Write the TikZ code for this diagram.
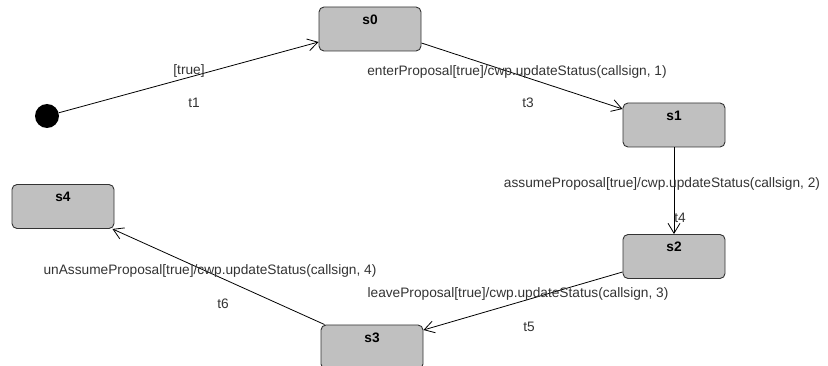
\documentclass[tikz,border=0pt]{standalone}
\usepackage{fontspec}
\setmainfont{Liberation Sans}
\usetikzlibrary{arrows.meta,calc}
\definecolor{stfill}{HTML}{C0C0C0}
\definecolor{stline}{HTML}{333333}
\definecolor{lbl}{HTML}{333333}
\tikzset{
  state/.style={draw=stline, fill=stfill, rounded corners=5pt, line width=0.9pt,
    minimum width=102pt, minimum height=44pt, inner sep=0pt},
  title/.style={font=\fontsize{13.7}{14}\selectfont\bfseries, text=black, anchor=center},
  lab/.style={font=\fontsize{13.7}{14}\selectfont, text=lbl, anchor=center, inner sep=0pt},
  trans/.style={draw=black, line width=0.8pt,
    -{Straight Barb[length=10pt,width=12pt,line width=0.8pt]}},
  initial/.style={circle, fill=black, minimum size=24pt, inner sep=0pt}
}
\begin{document}
\begin{tikzpicture}[x=1pt,y=-1pt]
\useasboundingbox (0,0) rectangle (828,366);
\node[initial] (init) at (47,116) {};
\node[state] (s0) at (370,29) {};
\node[title] (s0t) at ($(s0.north)+(0,13)$) {s0};
\node[state] (s1) at (674,125) {};
\node[title] (s1t) at ($(s1.north)+(0,13)$) {s1};
\node[state] (s2) at (674,256.5) {};
\node[title] (s2t) at ($(s2.north)+(0,13)$) {s2};
\node[state] (s3) at (372,347) {};
\node[title] (s3t) at ($(s3.north)+(0,13)$) {s3};
\node[state] (s4) at (63,206.5) {};
\node[title] (s4t) at ($(s4.north)+(0,13)$) {s4};

\draw[trans] (init) -- ($(s0.west)+(0,13)$);
\draw[trans] ($(s0.east)+(0,14)$) -- ($(s1.west)+(0,-16)$);
\draw[trans] (s1.south) -- (s2.north);
\draw[trans] ($(s2.west)+(0,15.5)$) -- ($(s3.east)+(0,-17)$);
\draw[trans] ($(s3.north west)+(4,0)$) -- ($(s4.south east)+(-2,0)$);

\node[lab] (l1) at (189,71) {[true]};
\node[lab] (n1) at (194,103) {t1};
\node[lab] (l3) at (517,72) {enterProposal[true]/cwp.updateStatus(callsign, 1)};
\node[lab] (n3) at (528,103) {t3};
\node[lab] (l4) at (662,184) {assumeProposal[true]/cwp.updateStatus(callsign, 2)};
\node[lab] (n4) at (680,218) {t4};
\node[lab] (l5) at (518,294) {leaveProposal[true]/cwp.updateStatus(callsign, 3)};
\node[lab] (n5) at (529,327) {t5};
\node[lab] (l6) at (210,271) {unAssumeProposal[true]/cwp.updateStatus(callsign, 4)};
\node[lab] (n6) at (223,304) {t6};
\end{tikzpicture}
\end{document}
